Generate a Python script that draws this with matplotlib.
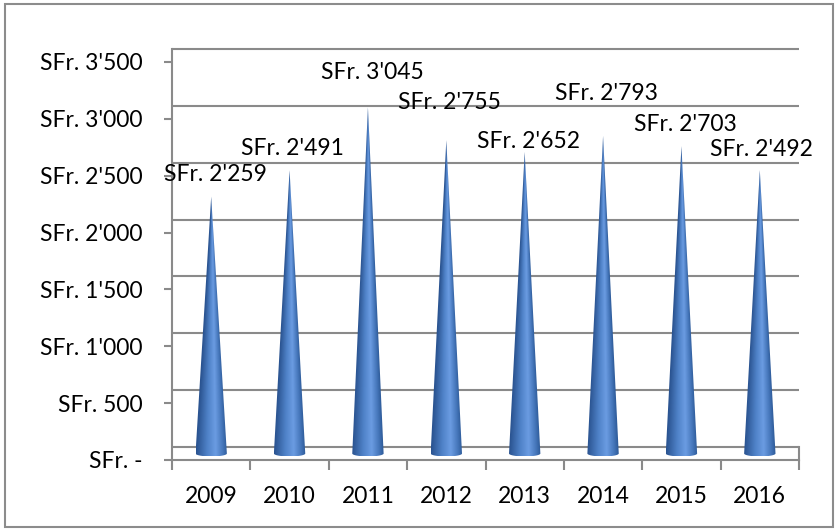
import matplotlib
matplotlib.use("Agg")
import matplotlib.pyplot as plt
import numpy as np
from matplotlib.colors import LinearSegmentedColormap
from matplotlib.patches import Polygon, Rectangle

# data
years = ['2009', '2010', '2011', '2012', '2013', '2014', '2015', '2016']
amounts = [2259, 2491, 3045, 2755, 2652, 2793, 2703, 2492]
value_labels = ["SFr. 2'259", "SFr. 2'491", "SFr. 3'045", "SFr. 2'755",
                "SFr. 2'652", "SFr. 2'793", "SFr. 2'703", "SFr. 2'492"]
y_ticks = [0, 500, 1000, 1500, 2000, 2500, 3000, 3500]
y_tick_labels = ["SFr. -", "SFr. 500", "SFr. 1'000", "SFr. 1'500",
                 "SFr. 2'000", "SFr. 2'500", "SFr. 3'000", "SFr. 3'500"]

# where Excel dropped the value labels, in pixels from the cone tip
label_nudge = [(4, 22), (3, 22), (4, 35), (3, 38), (4, 10), (3, 42), (4, 22), (2, 21)]

plt.rcParams['font.family'] = ['Lato', 'DejaVu Sans']
fsize = 16.5
grid_col = '#8a8a8a'

fig = plt.figure(figsize=(8.39, 5.31), dpi=100)
ax = fig.add_axes([172/839, 71/531, 627/839, 411/531])

depth = 57      # cones stand half way into the floor
back = 114      # back wall sits this far "up" from the front axis
half_w = 0.2
base_h = 26

cmap = LinearSegmentedColormap.from_list(
    'cone', [(0.0, '#2a5390'), (0.35, '#4f82c8'), (0.62, '#6b9ce2'),
             (0.85, '#4677bb'), (1.0, '#2d5a98')])

# back wall gridlines + floor
for v in y_ticks:
    ax.plot([-0.5, 7.5], [v + back, v + back], color=grid_col, lw=1.5,
            zorder=1, clip_on=False, solid_capstyle='butt')
ax.plot([7.5, 7.5], [0, back], color=grid_col, lw=1.5, zorder=1, clip_on=False)

# cones
for i, v in enumerate(amounts):
    top = v + depth
    th = np.linspace(np.pi, 2 * np.pi, 40)
    ell_x = i + half_w * np.cos(th)
    ell_y = depth + base_h * np.sin(th)
    outline = np.column_stack([np.r_[i, ell_x], np.r_[top, ell_y]])
    patch = Polygon(outline, closed=True, transform=ax.transData,
                    facecolor='none', edgecolor='none')
    ax.add_patch(patch)

    gx = np.linspace(i - half_w, i + half_w, 80)
    gy = np.linspace(depth - base_h, top, 300)
    X, Y = np.meshgrid(gx, gy)
    local = half_w * np.clip((top - Y) / (top - depth), 0.002, 1)
    u = np.clip((X - i) / local, -1, 1)
    img = cmap((u + 1) / 2)
    im = ax.imshow(img, extent=[i - half_w, i + half_w, depth - base_h, top],
                   origin='lower', aspect='auto', interpolation='bilinear', zorder=3)
    im.set_clip_path(patch)

    dx, dy = label_nudge[i]
    ax.annotate(value_labels[i], xy=(i, top), xytext=(dx, dy),
                textcoords='offset pixels', ha='center', va='center',
                fontsize=fsize, zorder=5, annotation_clip=False)

ax.set_xlim(-0.5, 7.5)
ax.set_ylim(0, 3500 + back)

for s in ['top', 'right']:
    ax.spines[s].set_visible(False)
for s in ['left', 'bottom']:
    ax.spines[s].set_color(grid_col)
    ax.spines[s].set_linewidth(1.5)

ax.set_yticks(y_ticks, y_tick_labels)
ax.tick_params(axis='y', length=6, width=1.5, color=grid_col, pad=15, labelsize=fsize)
ax.set_xticks(range(len(years)), years)
ax.set_xticks(np.arange(-0.5, 8, 1), minor=True)
ax.tick_params(axis='x', which='major', length=0, pad=19, labelsize=fsize)
ax.tick_params(axis='x', which='minor', length=7, width=1.5, color=grid_col)

fig.add_artist(Rectangle((5/839, 4/531), 828/839, 523/531, transform=fig.transFigure,
                         fill=False, ec='#8c8c8c', lw=1.5))

fig.savefig('out.png', dpi=100)
